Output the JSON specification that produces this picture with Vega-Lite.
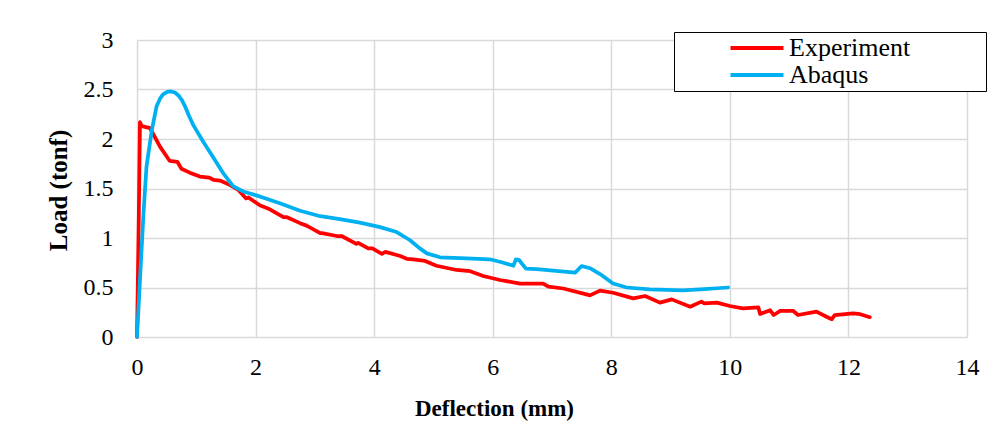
{
  "$schema": "https://vega.github.io/schema/vega-lite/v6.json",
  "width": 830,
  "height": 297,
  "autosize": {"type": "none"},
  "padding": {"left": 137, "top": 40, "right": 35, "bottom": 109},
  "background": "white",
  "config": {
    "font": "Liberation Serif",
    "view": {"stroke": null}
  },
  "data": {
    "values": [
      {"series": "Experiment", "d": 0, "load": 0},
      {"series": "Experiment", "d": 0.03, "load": 1.2},
      {"series": "Experiment", "d": 0.05, "load": 2.17},
      {"series": "Experiment", "d": 0.08, "load": 2.13},
      {"series": "Experiment", "d": 0.22, "load": 2.11},
      {"series": "Experiment", "d": 0.39, "load": 1.92},
      {"series": "Experiment", "d": 0.55, "load": 1.78},
      {"series": "Experiment", "d": 0.68, "load": 1.77},
      {"series": "Experiment", "d": 0.75, "load": 1.7},
      {"series": "Experiment", "d": 0.89, "load": 1.66},
      {"series": "Experiment", "d": 1.06, "load": 1.62},
      {"series": "Experiment", "d": 1.22, "load": 1.61},
      {"series": "Experiment", "d": 1.29, "load": 1.586},
      {"series": "Experiment", "d": 1.4, "load": 1.58},
      {"series": "Experiment", "d": 1.57, "load": 1.535},
      {"series": "Experiment", "d": 1.71, "load": 1.485},
      {"series": "Experiment", "d": 1.84, "load": 1.4},
      {"series": "Experiment", "d": 1.88, "load": 1.41},
      {"series": "Experiment", "d": 2.07, "load": 1.33},
      {"series": "Experiment", "d": 2.24, "load": 1.29},
      {"series": "Experiment", "d": 2.47, "load": 1.21},
      {"series": "Experiment", "d": 2.53, "load": 1.21},
      {"series": "Experiment", "d": 2.75, "load": 1.15},
      {"series": "Experiment", "d": 2.86, "load": 1.125},
      {"series": "Experiment", "d": 3.09, "load": 1.05},
      {"series": "Experiment", "d": 3.12, "load": 1.05},
      {"series": "Experiment", "d": 3.37, "load": 1.02},
      {"series": "Experiment", "d": 3.45, "load": 1.02},
      {"series": "Experiment", "d": 3.7, "load": 0.94},
      {"series": "Experiment", "d": 3.73, "load": 0.95},
      {"series": "Experiment", "d": 3.9, "load": 0.895},
      {"series": "Experiment", "d": 3.97, "load": 0.895},
      {"series": "Experiment", "d": 4.13, "load": 0.84},
      {"series": "Experiment", "d": 4.19, "load": 0.86},
      {"series": "Experiment", "d": 4.44, "load": 0.818},
      {"series": "Experiment", "d": 4.55, "load": 0.79},
      {"series": "Experiment", "d": 4.66, "load": 0.785},
      {"series": "Experiment", "d": 4.86, "load": 0.768},
      {"series": "Experiment", "d": 5.05, "load": 0.72},
      {"series": "Experiment", "d": 5.39, "load": 0.677},
      {"series": "Experiment", "d": 5.62, "load": 0.665},
      {"series": "Experiment", "d": 5.84, "load": 0.616},
      {"series": "Experiment", "d": 6.12, "load": 0.576},
      {"series": "Experiment", "d": 6.46, "load": 0.54},
      {"series": "Experiment", "d": 6.85, "load": 0.54},
      {"series": "Experiment", "d": 6.94, "load": 0.508},
      {"series": "Experiment", "d": 7.19, "load": 0.49},
      {"series": "Experiment", "d": 7.58, "load": 0.43},
      {"series": "Experiment", "d": 7.64, "load": 0.42},
      {"series": "Experiment", "d": 7.81, "load": 0.468},
      {"series": "Experiment", "d": 8.03, "load": 0.447},
      {"series": "Experiment", "d": 8.37, "load": 0.39},
      {"series": "Experiment", "d": 8.57, "load": 0.414},
      {"series": "Experiment", "d": 8.82, "load": 0.347},
      {"series": "Experiment", "d": 9.02, "load": 0.38},
      {"series": "Experiment", "d": 9.33, "load": 0.306},
      {"series": "Experiment", "d": 9.52, "load": 0.357},
      {"series": "Experiment", "d": 9.57, "load": 0.34},
      {"series": "Experiment", "d": 9.78, "load": 0.347},
      {"series": "Experiment", "d": 10.0, "load": 0.313},
      {"series": "Experiment", "d": 10.22, "load": 0.29},
      {"series": "Experiment", "d": 10.48, "load": 0.3},
      {"series": "Experiment", "d": 10.51, "load": 0.232},
      {"series": "Experiment", "d": 10.68, "load": 0.27},
      {"series": "Experiment", "d": 10.74, "load": 0.222},
      {"series": "Experiment", "d": 10.85, "load": 0.263},
      {"series": "Experiment", "d": 11.07, "load": 0.263},
      {"series": "Experiment", "d": 11.15, "load": 0.222},
      {"series": "Experiment", "d": 11.46, "load": 0.256},
      {"series": "Experiment", "d": 11.63, "load": 0.205},
      {"series": "Experiment", "d": 11.72, "load": 0.18},
      {"series": "Experiment", "d": 11.77, "load": 0.222},
      {"series": "Experiment", "d": 12.08, "load": 0.239},
      {"series": "Experiment", "d": 12.2, "load": 0.23},
      {"series": "Experiment", "d": 12.36, "load": 0.2},
      {"series": "Abaqus", "d": 0, "load": 0},
      {"series": "Abaqus", "d": 0.05, "load": 0.576},
      {"series": "Abaqus", "d": 0.11, "load": 1.25},
      {"series": "Abaqus", "d": 0.16, "load": 1.72},
      {"series": "Abaqus", "d": 0.25, "load": 2.09},
      {"series": "Abaqus", "d": 0.33, "load": 2.33},
      {"series": "Abaqus", "d": 0.39, "load": 2.41},
      {"series": "Abaqus", "d": 0.44, "load": 2.45},
      {"series": "Abaqus", "d": 0.51, "load": 2.475},
      {"series": "Abaqus", "d": 0.57, "load": 2.48},
      {"series": "Abaqus", "d": 0.64, "load": 2.47},
      {"series": "Abaqus", "d": 0.7, "load": 2.44},
      {"series": "Abaqus", "d": 0.76, "load": 2.39},
      {"series": "Abaqus", "d": 0.81, "load": 2.33},
      {"series": "Abaqus", "d": 0.88, "load": 2.23},
      {"series": "Abaqus", "d": 0.95, "load": 2.14},
      {"series": "Abaqus", "d": 1.12, "load": 1.97},
      {"series": "Abaqus", "d": 1.29, "load": 1.81},
      {"series": "Abaqus", "d": 1.46, "load": 1.65},
      {"series": "Abaqus", "d": 1.62, "load": 1.525},
      {"series": "Abaqus", "d": 1.79, "load": 1.47},
      {"series": "Abaqus", "d": 2.07, "load": 1.42},
      {"series": "Abaqus", "d": 2.41, "load": 1.35},
      {"series": "Abaqus", "d": 2.75, "load": 1.275},
      {"series": "Abaqus", "d": 3.09, "load": 1.22},
      {"series": "Abaqus", "d": 3.42, "load": 1.19},
      {"series": "Abaqus", "d": 3.76, "load": 1.155},
      {"series": "Abaqus", "d": 4.1, "load": 1.11},
      {"series": "Abaqus", "d": 4.38, "load": 1.06},
      {"series": "Abaqus", "d": 4.6, "load": 0.98},
      {"series": "Abaqus", "d": 4.77, "load": 0.895},
      {"series": "Abaqus", "d": 4.89, "load": 0.845},
      {"series": "Abaqus", "d": 5.11, "load": 0.805},
      {"series": "Abaqus", "d": 5.56, "load": 0.795},
      {"series": "Abaqus", "d": 5.95, "load": 0.785},
      {"series": "Abaqus", "d": 6.12, "load": 0.76},
      {"series": "Abaqus", "d": 6.35, "load": 0.72},
      {"series": "Abaqus", "d": 6.39, "load": 0.785},
      {"series": "Abaqus", "d": 6.44, "load": 0.78},
      {"series": "Abaqus", "d": 6.56, "load": 0.69},
      {"series": "Abaqus", "d": 6.74, "load": 0.685},
      {"series": "Abaqus", "d": 7.02, "load": 0.67},
      {"series": "Abaqus", "d": 7.39, "load": 0.65},
      {"series": "Abaqus", "d": 7.5, "load": 0.717},
      {"series": "Abaqus", "d": 7.64, "load": 0.695},
      {"series": "Abaqus", "d": 7.81, "load": 0.636},
      {"series": "Abaqus", "d": 8.03, "load": 0.54},
      {"series": "Abaqus", "d": 8.26, "load": 0.5},
      {"series": "Abaqus", "d": 8.65, "load": 0.48},
      {"series": "Abaqus", "d": 9.21, "load": 0.47},
      {"series": "Abaqus", "d": 9.5, "load": 0.48},
      {"series": "Abaqus", "d": 9.97, "load": 0.5}
    ]
  },
  "mark": {"type": "line", "strokeWidth": 3.75, "strokeJoin": "round", "strokeCap": "round"},
  "encoding": {
    "x": {
      "field": "d", "type": "quantitative",
      "scale": {"domain": [0, 14], "nice": false, "zero": false},
      "axis": {
        "values": [0, 2, 4, 6, 8, 10, 12, 14],
        "title": "Deflection (mm)",
        "titleFont": "Liberation Serif", "titleFontSize": 23, "titleFontWeight": "bold", "titleColor": "black",
        "titleX": 357, "titleY": 71, "titleAlign": "center", "titleBaseline": "middle", "titleAnchor": null,
        "labelFont": "Liberation Serif", "labelFontSize": 24, "labelColor": "black", "labelPadding": 18,
        "labelFlush": false, "labelOverlap": false,
        "domain": false, "ticks": false,
        "grid": true, "gridColor": "#d9d9d9", "gridWidth": 1.5
      }
    },
    "y": {
      "field": "load", "type": "quantitative",
      "scale": {"domain": [0, 3], "nice": false},
      "axis": {
        "values": [0, 0.5, 1, 1.5, 2, 2.5, 3],
        "format": "~g",
        "title": "Load (tonf)",
        "titleFont": "Liberation Serif", "titleFontSize": 25, "titleFontWeight": "bold", "titleColor": "black",
        "titleX": -79, "titleY": 150, "titleAngle": 270, "titleAlign": "center", "titleBaseline": "middle", "titleAnchor": null,
        "labelFont": "Liberation Serif", "labelFontSize": 24, "labelColor": "black", "labelPadding": 24,
        "labelFlush": false, "labelOverlap": false,
        "domain": false, "ticks": false,
        "grid": true, "gridColor": "#d9d9d9", "gridWidth": 1.5
      }
    },
    "color": {
      "field": "series", "type": "nominal",
      "scale": {"domain": ["Experiment", "Abaqus"], "range": ["#ff0000", "#00b0f0"]},
      "legend": {
        "title": null,
        "orient": "none",
        "legendX": 537,
        "legendY": -8,
        "padding": 3,
        "strokeColor": "black",
        "fillColor": "white",
        "symbolType": "M-5.3,0H5.3M43.6,0",
        "symbolSize": 100,
        "symbolStrokeWidth": 4,
        "symbolOffset": 67,
        "labelOffset": 19,
        "labelFont": "Liberation Serif",
        "labelFontSize": 26,
        "labelColor": "black",
        "labelLimit": 400,
        "rowPadding": 1
      }
    }
  }
}
